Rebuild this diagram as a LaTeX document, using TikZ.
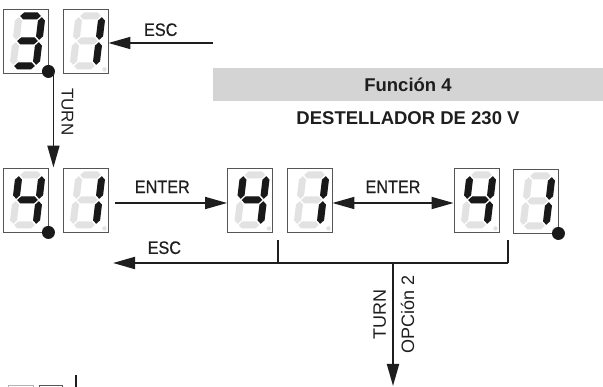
\documentclass[tikz,border=0pt]{standalone}
\usepackage{fontspec}
\setmainfont{Liberation Sans}
\newfontfamily\condfont[FakeStretch=0.9, FakeBold=0.6]{Liberation Sans}
\usetikzlibrary{arrows.meta, positioning, calc}
\definecolor{segon}{RGB}{25,25,25}
\definecolor{segoff}{RGB}{226,226,226}
\definecolor{boxline}{RGB}{85,85,85}
\definecolor{hdrgray}{RGB}{212,212,212}
\definecolor{mydark}{RGB}{30,30,30}
\tikzset{
  dispbox/.style={rectangle, draw=boxline, fill=white, line width=0.9pt,
    minimum width=45pt, minimum height=64pt, inner sep=0pt},
  bigdot/.style={circle, fill=segon, minimum size=13pt, inner sep=0pt},
  arrow/.style={-{Triangle[length=22pt,width=12pt]}, line width=1.8pt, color=mydark},
  dblarrow/.style={{Triangle[length=22pt,width=12pt]}-{Triangle[length=22pt,width=12pt]},
    line width=1.8pt, color=mydark},
  line/.style={line width=1.8pt, color=mydark},
  keylabel/.style={font=\fontsize{18}{20}\selectfont\condfont, text=mydark, inner sep=0pt},
  turnlabel/.style={font=\fontsize{17}{19}\selectfont, text=mydark},
  % the seven segments, a (top) clockwise, g in the middle
  sega/.style={insert path={(-10.3,25) -- (-6.8,28.5) -- (6.8,28.5) -- (10.3,25) -- (6.8,21.5) -- (-6.8,21.5) -- cycle}},
  segb/.style={insert path={(11.5,23.8) -- (15,20.3) -- (15,4.7) -- (11.5,1.2) -- (8,4.7) -- (8,20.3) -- cycle}},
  segc/.style={insert path={(11.5,-1.2) -- (15,-4.7) -- (15,-20.3) -- (11.5,-23.8) -- (8,-20.3) -- (8,-4.7) -- cycle}},
  segd/.style={insert path={(-10.3,-25) -- (-6.8,-21.5) -- (6.8,-21.5) -- (10.3,-25) -- (6.8,-28.5) -- (-6.8,-28.5) -- cycle}},
  sege/.style={insert path={(-11.5,-1.2) -- (-8,-4.7) -- (-8,-20.3) -- (-11.5,-23.8) -- (-15,-20.3) -- (-15,-4.7) -- cycle}},
  segf/.style={insert path={(-11.5,23.8) -- (-8,20.3) -- (-8,4.7) -- (-11.5,1.2) -- (-15,4.7) -- (-15,20.3) -- cycle}},
  segg/.style={insert path={(-10.3,0) -- (-6.8,3.5) -- (6.8,3.5) -- (10.3,0) -- (6.8,-3.5) -- (-6.8,-3.5) -- cycle}}
}
% display box with one digit: name, position, lit segments
\newcommand\showdigit[3]{%
  \node[dispbox] (#1) at (#2) {};
  \begin{scope}[shift={(#1.center)}, x=1pt, y=1pt, xslant=0.12, xshift=2pt]
    \foreach \s in {a,b,c,d,e,f,g} \fill[segoff] [seg\s];
    \foreach \s in {#3} \fill[segon] [seg\s];
  \end{scope}
  \fill[segoff] ([shift={(-4pt,4pt)}]#1.south east) circle (2.2pt);
}

\begin{document}
\begin{tikzpicture}[x=1pt, y=-1pt,
  hdrbox/.style={rectangle, fill=hdrgray, minimum width=390pt, minimum height=33pt,
    inner sep=0pt, font=\bfseries\fontsize{18.5}{20}\selectfont, text=mydark}
]
  \useasboundingbox (0,0) rectangle (603,387);

  \showdigit{d3}{25.5,41}{a,b,c,d,g}
  \showdigit{d1}{85.5,41}{b,c}
  \showdigit{d4a}{25.5,200}{b,c,f,g}
  \showdigit{d1a}{85.5,200}{b,c}
  \showdigit{d4b}{250,200}{b,c,f,g}
  \showdigit{d1b}{309.5,200}{b,c}
  \showdigit{d4c}{476.5,200}{b,c,f,g}
  \showdigit{d1c}{535.5,201}{b,c}

  \node[bigdot] (dot3) at ([yshift=2pt]d3.south east) {};
  \node[bigdot] (dot4) at (d4a.south east) {};
  \node[bigdot] (dot1) at (d1c.south east) {};

  \node[hdrbox] (hdr) at (408,84.5) {Función 4};
  \node[font=\bfseries\fontsize{18.5}{20}\selectfont, text=mydark] (title) at (408,118) {DESTELLADOR DE 230 V};

  \coordinate (escA) at (213,43);
  \coordinate (turnA) at ([xshift=5pt]dot3.center);
  \coordinate (brL) at (278,240);
  \coordinate (brR) at (508,240);
  \coordinate (escB) at (113,263);
  \coordinate (optB) at (393,386);

  \draw[arrow] (escA) -- node[keylabel, above=6pt] {ESC} (escA -| d1.east);
  \draw[arrow] (turnA) -- node[turnlabel, rotate=-90, anchor=south, inner sep=7pt, pos=0.42] {TURN} (turnA |- d4a.north);
  \draw[arrow] ([xshift=7pt,yshift=-3pt]d1a.east) -- node[keylabel, above=9pt, pos=0.42] {ENTER} ([yshift=-3pt]d4b.west);
  \draw[dblarrow] ([yshift=-3pt]d1b.east) -- node[keylabel, above=9pt] {ENTER} ([yshift=-3pt]d4c.west);

  \draw[line] (brL) -- (brL |- escB);
  \draw[line] (brR) -- (brR |- escB);
  \draw[arrow] (brR |- escB) -- node[keylabel, above=8pt, pos=0.87] {ESC} (escB);
  \draw[arrow] (optB |- escB) --
    node[turnlabel, font=\fontsize{18}{20}\selectfont, rotate=90, anchor=south, inner sep=6pt, pos=0.42] {TURN}
    node[turnlabel, font=\fontsize{18}{20}\selectfont, rotate=90, anchor=north, inner sep=7pt, pos=0.42] {OPCión 2} (optB);

  % start of the next diagram, cut off at the bottom
  \draw[line width=0.9pt, color=gray!60] (8,385) rectangle (33,400);
  \draw[line width=0.9pt, color=boxline] (39,385) rectangle (62,400);
  \draw[line] (76,375) -- (76,395);
\end{tikzpicture}
\end{document}
